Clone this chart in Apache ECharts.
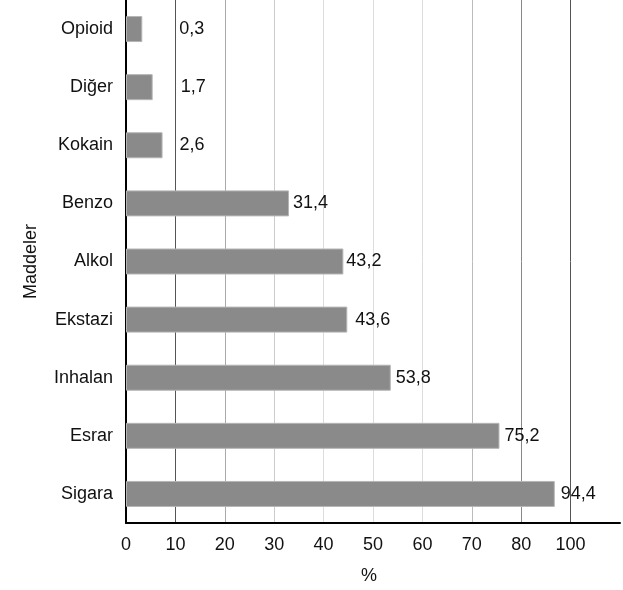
<!DOCTYPE html>
<html>
<head>
<meta charset="utf-8">
<script src="https://cdn.jsdelivr.net/npm/echarts@6/dist/echarts.min.js"></script>
<style>
html,body{margin:0;padding:0;background:#fff;}
#c{width:623px;height:590px;}
</style>
</head>
<body>
<div id="c"></div>
<script>
// Categories (top to bottom)
const categories = ['Opioid', 'Diğer', 'Kokain', 'Benzo', 'Alkol', 'Ekstazi', 'Inhalan', 'Esrar', 'Sigara'];
// Bar lengths as drawn in the picture (on the x scale)
const barValues = [3.3, 5.4, 7.4, 33.0, 44.0, 44.8, 53.6, 75.6, 86.8];
// Value labels printed next to bars
const valueLabels = ['0,3', '1,7', '2,6', '31,4', '43,2', '43,6', '53,8', '75,2', '94,4'];
// X tick labels (as printed)
const tickLabels = ['0', '10', '20', '30', '40', '50', '60', '70', '80', '100'];

const labelGaps = [37, 28, 17, 4, 3, 8, 5, 5, 6];
const gridColors = ['#000', '#555', '#aaa', '#ccc', '#ddd', '#ddd', '#ddd', '#bbb', '#888', '#555', '#fff'];
const FONT = 'Liberation Sans, Arial, sans-serif';

const chart = echarts.init(document.getElementById('c'), null, {renderer: 'canvas'});
chart.setOption({
  animation: false,
  backgroundColor: '#fff',
  grid: {left: 126, width: 500, top: -7, height: 536, containLabel: false},
  xAxis: {
    type: 'value',
    min: 0, max: 100, interval: 10,
    name: '%',
    nameLocation: 'middle',
    nameGap: 44,
    nameTextStyle: {color: '#111', fontSize: 18, fontFamily: FONT, padding: [0, 8, 0, 0]},
    axisLine: {show: true, lineStyle: {color: '#000', width: 2}},
    axisTick: {show: false},
    axisLabel: {
      color: '#111', fontSize: 18, fontFamily: FONT, margin: 13,
      formatter: function (v, i) { return tickLabels[i] !== undefined ? tickLabels[i] : ''; }
    },
    splitLine: {show: true, lineStyle: {color: gridColors, width: 1}}
  },
  yAxis: {
    type: 'category',
    inverse: true,
    data: categories,
    name: 'Maddeler',
    nameLocation: 'middle',
    nameGap: 86,
    nameTextStyle: {color: '#111', fontSize: 18, fontFamily: FONT},
    axisLine: {show: true, lineStyle: {color: '#000', width: 2}},
    axisTick: {show: false},
    axisLabel: {color: '#111', fontSize: 18, fontFamily: FONT, margin: 13}
  },
  series: [{
    type: 'bar',
    barWidth: 26,
    data: barValues.map(function (v, i) {
      return {value: v, label: {distance: labelGaps[i]}};
    }),
    itemStyle: {color: '#8a8a8a', borderColor: '#b5b5b5', borderWidth: 1},
    label: {
      show: true,
      position: 'right',
      color: '#111',
      fontSize: 18,
      fontFamily: FONT,
      formatter: function (p) { return valueLabels[p.dataIndex]; }
    }
  }]
});
</script>
</body>
</html>
